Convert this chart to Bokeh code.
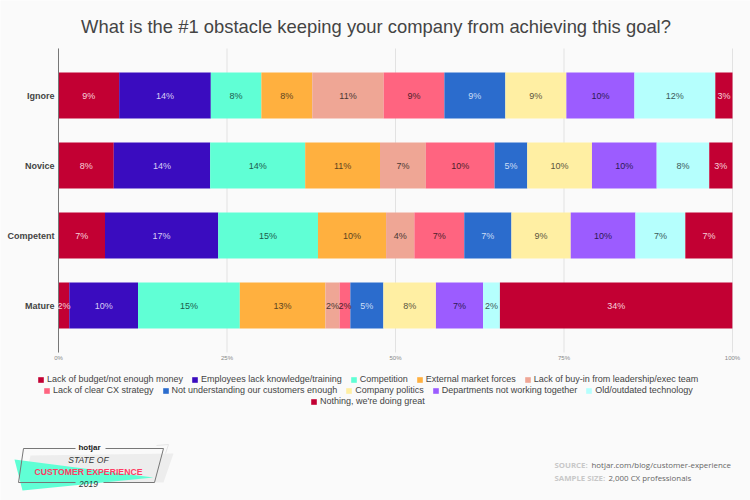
from bokeh.embed import file_html
from bokeh.resources import INLINE
from bokeh.plotting import figure
from bokeh.core.properties import value
from bokeh.models import (ColumnDataSource, Range1d, LabelSet, Label, Legend, LegendItem,
                          PolyAnnotation, FixedTicker)

title_text = "What is the #1 obstacle keeping your company from achieving this goal?"
categories = ["Ignore", "Novice", "Competent", "Mature"]
series_names = ["Lack of budget/not enough money", "Employees lack knowledge/training", "Competition",
                "External market forces", "Lack of buy-in from leadership/exec team", "Lack of clear CX strategy",
                "Not understanding our customers enough", "Company politics", "Departments not working together",
                "Old/outdated technology", "Nothing, we're doing great"]
ignore_values = [9.0, 13.6, 7.5, 7.55, 10.6, 9.0, 9.05, 9.05, 10.1, 12.0, 2.55]
novice_values = [8.2, 14.3, 14.1, 11.1, 6.8, 10.2, 4.85, 9.6, 9.6, 7.8, 3.45]
competent_values = [6.9, 16.8, 14.8, 10.1, 4.2, 7.4, 7.0, 8.8, 9.6, 7.4, 7.0]
mature_values = [1.6, 10.2, 15.1, 12.7, 2.1, 1.6, 4.9, 7.8, 7.0, 2.49, 34.49]
series_colors = ["#C20033", "#3A0CBF", "#60FFD5", "#FFB03F", "#EFA695", "#FF6480",
                 "#2B6CCD", "#FFEFA3", "#9C5CFF", "#B5FFFD", "#C20033"]
label_colors = ["#F6D0DA", "#D8CEF4", "#1d5c4c", "#5c4420", "#4a3833", "#4d1f2a",
                "#CBDDF5", "#5a5540", "#2d1a55", "#3c5a59", "#F6D0DA"]
tick_values = [0, 25, 50, 75, 100]
legend_rows = [series_names[:5], series_names[5:10], series_names[10:]]

BG = "#FAFAFA"
FONT = "Liberation Sans"
W, H = 750, 500
X0, X100 = 58, 732          # pixel of 0 % and 100 %
ROW_PX, Y_MATURE = 70, 305  # pixel pitch of rows, pixel centre of the lowest row
AXIS_TOP, AXIS_BOTTOM = 48, 352
rows = [ignore_values, novice_values, competent_values, mature_values]
positions = [len(categories) - 1 - i for i in range(len(categories))]
px_per_x = (X100 - X0) / 100


def y_at(py):
    return (Y_MATURE - py) / ROW_PX


p = figure(width=W, height=H, x_range=Range1d(-X0 / px_per_x, (W - X0) / px_per_x),
           y_range=Range1d(y_at(H), y_at(0)), output_backend="svg", toolbar_location=None,
           min_border=0, background_fill_color=BG, border_fill_color=BG, outline_line_color=None)

p.segment(x0=tick_values, x1=tick_values, y0=[y_at(AXIS_BOTTOM)] * 5, y1=[y_at(AXIS_TOP)] * 5,
          line_color="#E2E2E2", line_width=1)

data = {"pos": positions}
for i, name in enumerate(series_names):
    data[name] = [r[i] for r in rows]
src = ColumnDataSource(data)
bars = p.hbar_stack(series_names, y="pos", height=46 / ROW_PX, color=series_colors, source=src, line_color=None)

mx, my, mt, mc = [], [], [], []
for pos, r in zip(positions, rows):
    left = 0.0
    for v, c in zip(r, label_colors):
        mx.append(left + v / 2)
        my.append(pos)
        mt.append(f"{round(v)}%")
        mc.append(c)
        left += v
lab_src = ColumnDataSource(dict(x=mx, y=my, t=mt, c=mc))
p.add_layout(LabelSet(x="x", y="y", text="t", text_color="c", source=lab_src, text_align="center",
                      text_baseline="middle", text_font=value(FONT), text_font_size="9px"))

p.xgrid.visible = False
p.ygrid.visible = False
p.xaxis.fixed_location = y_at(AXIS_BOTTOM)
p.xaxis.ticker = FixedTicker(ticks=tick_values)
p.xaxis.major_label_overrides = {t: f"{t}%" for t in tick_values}
p.xaxis.axis_line_color = None
p.xaxis.major_tick_line_color = None
p.xaxis.minor_tick_line_color = None
p.xaxis.major_tick_in = 0
p.xaxis.major_tick_out = 0
p.xaxis.major_label_text_font = FONT
p.xaxis.major_label_text_font_size = "6px"
p.xaxis.major_label_text_color = "#888888"
p.xaxis.major_label_standoff = 2

p.yaxis.fixed_location = 0
p.yaxis.bounds = (y_at(AXIS_BOTTOM), y_at(AXIS_TOP))
p.yaxis.ticker = FixedTicker(ticks=positions)
p.yaxis.major_label_overrides = {pos: c for pos, c in zip(positions, categories)}
p.yaxis.axis_line_color = "#777777"
p.yaxis.major_tick_line_color = None
p.yaxis.minor_tick_line_color = None
p.yaxis.major_tick_in = 0
p.yaxis.major_tick_out = 0
p.yaxis.major_label_text_font = FONT
p.yaxis.major_label_text_font_size = "9px"
p.yaxis.major_label_text_font_style = "bold"
p.yaxis.major_label_text_color = "#444444"
p.yaxis.major_label_standoff = 4

by_name = dict(zip(series_names, bars))
for row, (lx, ly) in zip(legend_rows, [(37, 116), (43, 105), (310, 94)]):
    items = [LegendItem(label=n, renderers=[by_name[n]]) for n in row]
    p.add_layout(Legend(items=items, orientation="horizontal", location=(lx, ly), margin=0, padding=0,
                        spacing=8, glyph_width=7, glyph_height=7, label_standoff=3, label_height=8,
                        label_text_font=FONT, label_text_font_size="9px", label_text_color="#444444",
                        label_text_line_height=1.0, background_fill_alpha=0, border_line_color=None), "center")


def poly(xs, ys, fill=None, line=None):
    p.add_layout(PolyAnnotation(xs=xs, ys=[H - y for y in ys], xs_units="screen", ys_units="screen",
                                fill_color=fill, fill_alpha=1 if fill else 0,
                                line_color=line, line_alpha=1 if line else 0, line_width=1))


def text(t, x, y, size, color, font=FONT, style="normal", align="left"):
    p.add_layout(Label(x=x, y=H - y, x_units="screen", y_units="screen", text=t, text_font=font,
                       text_font_size=size, text_color=color, text_font_style=style, text_align=align,
                       text_baseline="middle"))


text(title_text, 375.5, 26, "18.4px", "#444444", align="center")
poly([156, 168], [445, 444], line="#E6E6E6")
poly([168, 165], [444, 453], line="#E6E6E6")
poly([30, 173, 163, 24], [455, 453, 482, 482], fill="#EDEDED")
poly([14, 153, 22], [459, 477, 490], fill="#60FFD5")
for xs, ys in [([23, 75], [448, 448]), ([105, 163], [448, 448]), ([163, 154], [448, 482]),
               ([103, 154], [482, 482]), ([18, 75], [482, 482]), ([23, 18], [448, 482])]:
    poly(xs, ys, line="#777777")
text("hotjar", 89, 447, "8px", "#222222", style="bold", align="center")
text("STATE OF", 88, 459, "8.5px", "#333333", style="italic", align="center")
text("CUSTOMER EXPERIENCE", 88, 471, "8.7px", "#FF3C64", style="bold", align="center")
text("2019", 88, 483, "8.5px", "#333333", style="italic", align="center")
text("SOURCE:", 554, 464, "7.8px", "#C8C8C8", font="Open Sans", style="bold")
text("hotjar.com/blog/customer-experience", 591, 464, "7.9px", "#666666", font="Open Sans")
text("SAMPLE SIZE:", 554, 477, "7.8px", "#C8C8C8", font="Open Sans", style="bold")
text("2,000 CX professionals", 608, 477, "7.9px", "#666666", font="Open Sans")

open("out.html", "w").write(file_html(p, INLINE))
